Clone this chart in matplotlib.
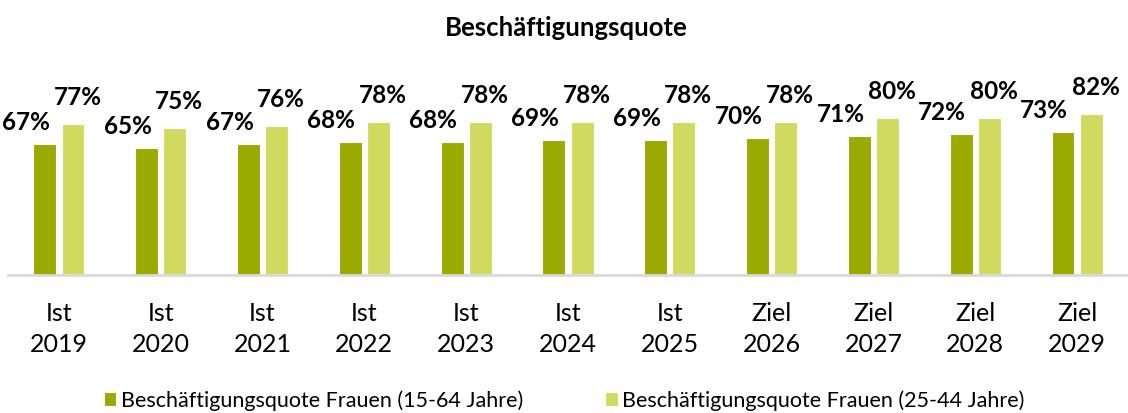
import numpy as np
import matplotlib.pyplot as plt

plt.rcParams['font.family'] = ['Lato', 'DejaVu Sans']

# data
kategorien = ['Ist\n2019', 'Ist\n2020', 'Ist\n2021', 'Ist\n2022', 'Ist\n2023', 'Ist\n2024',
              'Ist\n2025', 'Ziel\n2026', 'Ziel\n2027', 'Ziel\n2028', 'Ziel\n2029']
quote_15_64 = [67, 65, 67, 68, 68, 69, 69, 70, 71, 72, 73]
quote_25_44 = [77, 75, 76, 78, 78, 78, 78, 78, 80, 80, 82]
serien = ['Beschäftigungsquote Frauen (15-64 Jahre)', 'Beschäftigungsquote Frauen (25-44 Jahre)']

dunkel = '#9BAA00'
hell = '#D0DA5E'

fig = plt.figure(figsize=(11.28, 4.14), dpi=100)
ax = fig.add_axes([8/1128, 138/414, 1120/1128, 196/414])

x = np.arange(len(kategorien))
b1 = ax.bar(x - 0.138, quote_15_64, width=0.225, color=dunkel, edgecolor='white', linewidth=0.8, label=serien[0])
b2 = ax.bar(x + 0.138, quote_25_44, width=0.225, color=hell, edgecolor='white', linewidth=0.8, label=serien[1])

# labels, placed like in the original (dark one shifted left)
for xi, v in zip(x, quote_15_64):
    ax.annotate(f'{v}%', (xi - 0.138, v), xytext=(-13.7, 10.8), textcoords='offset points',
                ha='center', va='baseline', fontsize=17.5, fontweight='bold')
for xi, v in zip(x, quote_25_44):
    ax.annotate(f'{v}%', (xi + 0.138, v), xytext=(3.2, 14.4), textcoords='offset points',
                ha='center', va='baseline', fontsize=17.5, fontweight='bold')

ax.set_xlim(-0.5, len(kategorien) - 0.5)
ax.set_ylim(0, 100)
ax.set_yticks([])
ax.set_xticks(x)
ax.set_xticklabels(kategorien, fontsize=18, linespacing=1.4)
ax.tick_params(axis='x', length=0, pad=19)
for s in ['top', 'left', 'right']:
    ax.spines[s].set_visible(False)
ax.spines['bottom'].set_color('#D9D9D9')
ax.spines['bottom'].set_linewidth(2)

fig.text(0.502, 0.932, 'Beschäftigungsquote', ha='center', va='center', fontsize=18.5, fontweight='bold')

fig.legend(handles=[b1, b2], loc='center', bbox_to_anchor=(0.5, 0.031), ncol=2, frameon=False,
           fontsize=15.5, handlelength=0.6, handleheight=0.6, handletextpad=0.2, columnspacing=3.8)

fig.savefig('out.png', dpi=100)
